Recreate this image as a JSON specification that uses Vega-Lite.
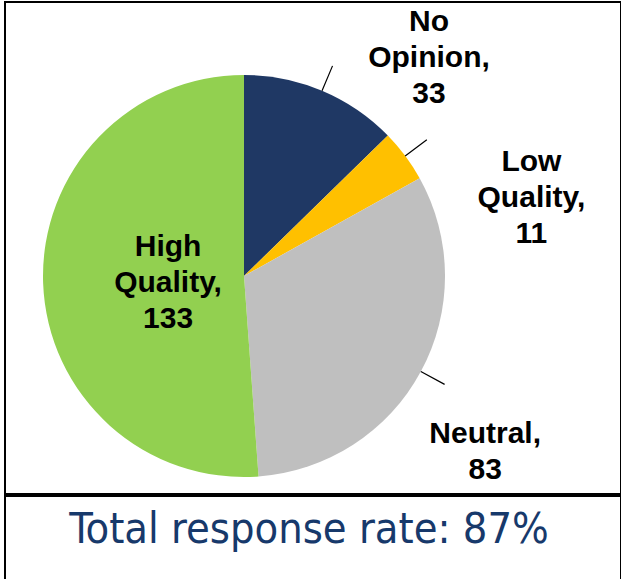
{
  "$schema": "https://vega.github.io/schema/vega-lite/v6.json",
  "background": "white",
  "padding": {"left": 4, "top": 1, "right": 0, "bottom": 0},
  "spacing": 0,
  "datasets": {
    "responses": [
      {"category": "No Opinion", "count": 33, "label": "No|Opinion,|33", "order": 1},
      {"category": "Low Quality", "count": 11, "label": "Low|Quality,|11", "order": 2},
      {"category": "Neutral", "count": 83, "label": "Neutral,|83", "order": 3},
      {"category": "High Quality", "count": 133, "label": "High|Quality,|133", "order": 4}
    ]
  },
  "vconcat": [
    {
      "width": 616,
      "height": 492,
      "view": {"stroke": "#000000", "strokeWidth": 2},
      "data": {"name": "responses"},
      "encoding": {
        "theta": {"field": "count", "type": "quantitative", "stack": true},
        "order": {"field": "order", "type": "quantitative"}
      },
      "layer": [
        {
          "mark": {"type": "arc", "outerRadius": 201, "x": 239, "y": 274},
          "encoding": {
            "color": {
              "field": "category",
              "type": "nominal",
              "scale": {
                "domain": ["No Opinion", "Low Quality", "Neutral", "High Quality"],
                "range": ["#1F3864", "#FFC000", "#BFBFBF", "#92D050"]
              },
              "legend": null
            }
          }
        },
        {
          "mark": {"type": "arc", "innerRadius": 201, "outerRadius": 228, "padAngle": 3, "x": 239, "y": 274, "fillOpacity": 0, "stroke": "#000000", "strokeWidth": 1.2},
          "encoding": {
            "strokeOpacity": {"condition": {"test": "datum.category === 'High Quality'", "value": 0}, "value": 1}
          }
        },
        {
          "mark": {"type": "text", "x": 239, "y": 274, "radius": 237, "dx": 93, "dy": -36, "font": "Liberation Sans", "fontWeight": "bold", "fontSize": 30, "lineHeight": 36, "lineBreak": "|", "align": "center", "baseline": "middle", "color": "#000000"},
          "encoding": {"text": {"condition": {"test": "datum.category === 'No Opinion'", "field": "label"}, "value": ""}}
        },
        {
          "mark": {"type": "text", "x": 239, "y": 274, "radius": 240, "dx": 95, "dy": 29, "font": "Liberation Sans", "fontWeight": "bold", "fontSize": 30, "lineHeight": 36, "lineBreak": "|", "align": "center", "baseline": "middle", "color": "#000000"},
          "encoding": {"text": {"condition": {"test": "datum.category === 'Low Quality'", "field": "label"}, "value": ""}}
        },
        {
          "mark": {"type": "text", "x": 239, "y": 274, "radius": 240, "dx": 30, "dy": 44, "font": "Liberation Sans", "fontWeight": "bold", "fontSize": 30, "lineHeight": 36, "lineBreak": "|", "align": "center", "baseline": "middle", "color": "#000000"},
          "encoding": {"text": {"condition": {"test": "datum.category === 'Neutral'", "field": "label"}, "value": ""}}
        },
        {
          "mark": {"type": "text", "x": 239, "y": 274, "radius": 75, "dx": -1, "dy": -32, "font": "Liberation Sans", "fontWeight": "bold", "fontSize": 30, "lineHeight": 36, "lineBreak": "|", "align": "center", "baseline": "middle", "color": "#000000"},
          "encoding": {"text": {"condition": {"test": "datum.category === 'High Quality'", "field": "label"}, "value": ""}}
        }
      ]
    },
    {
      "width": 616,
      "height": 85,
      "view": {"stroke": "#000000", "strokeWidth": 2},
      "data": {"values": [{"caption": "Total response rate: 87%"}]},
      "mark": {"type": "text", "dx": -4, "dy": -9, "font": "DejaVu Sans Condensed", "fontSize": 43, "color": "#17396B", "align": "center", "baseline": "middle"},
      "encoding": {"text": {"field": "caption", "type": "nominal"}}
    }
  ]
}
